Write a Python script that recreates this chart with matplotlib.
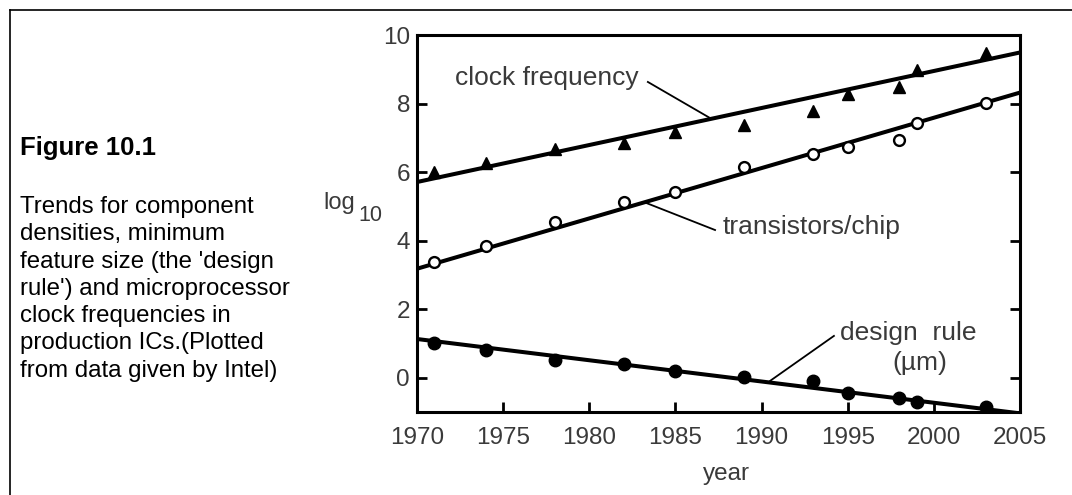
import matplotlib
matplotlib.use('Agg')
import matplotlib.pyplot as plt
from matplotlib.lines import Line2D
import numpy as np

font = {'family' : 'Liberation Sans',
        'weight' : 'normal',
        'size'   : 17}
plt.rc('font', **font)

# Intel data, log10 of each quantity
years      = [1971, 1974, 1978, 1982, 1985, 1989, 1993, 1995, 1998, 1999, 2003]
clock      = [6.0, 6.27, 6.67, 6.85, 7.17, 7.38, 7.78, 8.28, 8.48, 8.98, 9.48]
transistor = [3.38, 3.85, 4.55, 5.13, 5.42, 6.15, 6.53, 6.73, 6.94, 7.43, 8.02]
design     = [1.02, 0.82, 0.52, 0.41, 0.2, 0.03, -0.09, -0.44, -0.58, -0.7, -0.85]

# straight-line trends
fit_years      = [1970, 2005]
clock_fit      = [5.71, 9.49]
transistor_fit = [3.18, 8.32]
design_fit     = [1.13, -1.04]

xticks = [1970, 1975, 1980, 1985, 1990, 1995, 2000, 2005]
yticks = [0, 2, 4, 6, 8, 10]

caption = ("Trends for component\n"
           "densities, minimum\n"
           "feature size (the 'design\n"
           "rule') and microprocessor\n"
           "clock frequencies in\n"
           "production ICs.(Plotted\n"
           "from data given by Intel)")

tcol = '#3a3a3a'
W, H = 1072, 495
fig = plt.figure(figsize=(W/100., H/100.), dpi=100)

# frame round the figure (top and left only)
fig.add_artist(Line2D([10./W, 1.0], [1-10./H, 1-10./H], color='k', lw=1.2))
fig.add_artist(Line2D([10./W, 10./W], [0.0, 1-10./H], color='k', lw=1.2))

ax = fig.add_axes([417./W, 1-412./H, 603./W, 377./H])

ax.plot(fit_years, clock_fit, color='k', lw=2.9, solid_capstyle='butt')
ax.plot(fit_years, transistor_fit, color='k', lw=2.9, solid_capstyle='butt')
ax.plot(fit_years, design_fit, color='k', lw=2.9, solid_capstyle='butt')

ax.plot(years, clock, ls='none', marker='^', ms=8.8, color='k')
ax.plot(years, transistor, ls='none', marker='o', ms=7.8, mfc='white', mec='k', mew=1.7)
ax.plot(years, design, ls='none', marker='o', ms=9, color='k')

ax.set_xlim(1970, 2005)
ax.set_ylim(-1, 10)
ax.set_xticks(xticks)
ax.set_yticks(yticks)
ax.tick_params(axis='both', direction='in', length=7, width=2, colors='k',
               labelcolor=tcol, labelsize=17.5)
ax.tick_params(axis='x', pad=11)
ax.tick_params(axis='y', pad=5, right=True)
for s in ax.spines.values():
    s.set_linewidth(2.2)

ax.set_xlabel('year', color=tcol, fontsize=17.5)
ax.xaxis.set_label_coords(0.514, -0.135)

# y label: log with subscript 10
fig.text(323./W, 1-203./H, 'log', color=tcol, fontsize=17, ha='left', va='center')
fig.text(358./W, 1-216./H, '10', color=tcol, fontsize=15.5, ha='left', va='center')

# labels with leader lines
ax.text(1972.2, 8.75, 'clock frequency', color=tcol, fontsize=19, ha='left', va='center')
ax.plot([1983.4, 1987.0], [8.63, 7.58], color='k', lw=1.3)
ax.text(1987.75, 4.40, 'transistors/chip', color=tcol, fontsize=19, ha='left', va='center')
ax.plot([1983.3, 1987.3], [5.10, 4.31], color='k', lw=1.3)
ax.text(1994.55, 1.31, 'design  rule', color=tcol, fontsize=19, ha='left', va='center')
ax.text(1999.17, 0.44, '(\u00b5m)', color=tcol, fontsize=19, ha='center', va='center')
ax.plot([1994.2, 1990.5], [1.22, -0.09], color='k', lw=1.3)

fig.text(20./W, 1-155./H, 'Figure 10.1', fontsize=18.5, weight='bold',
         ha='left', va='baseline')
fig.text(20./W, 1-196./H, caption, fontsize=17.3, ha='left', va='top',
         linespacing=1.31)

plt.savefig('out.png', dpi=100)
